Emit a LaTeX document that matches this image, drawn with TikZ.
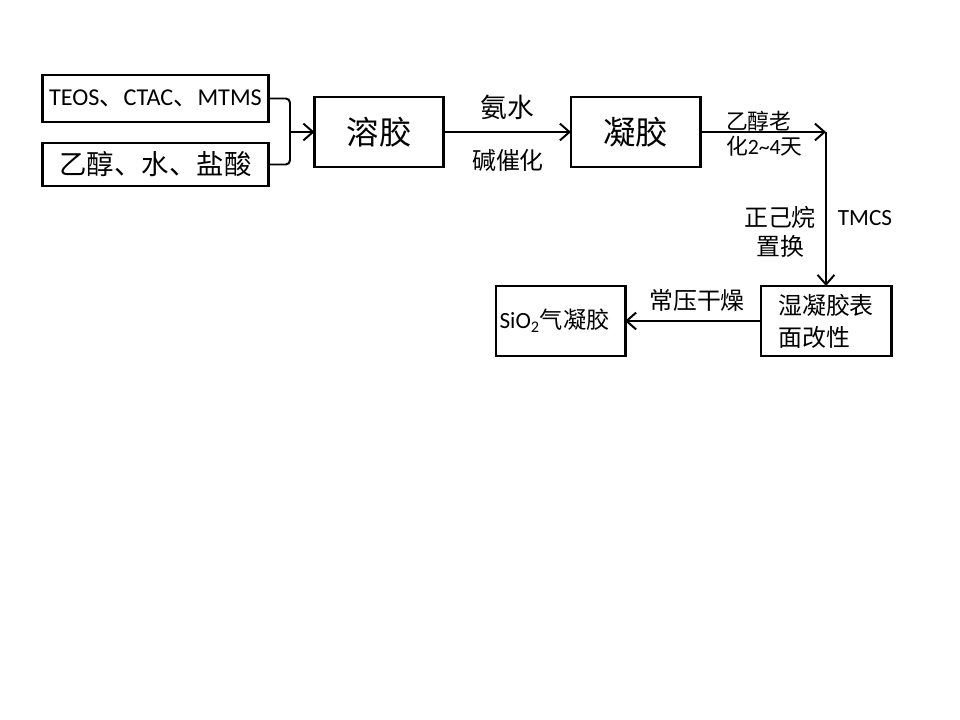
\documentclass[tikz,border=0pt]{standalone}
\usepackage{fontspec}
\setmainfont{Carlito}
\newfontfamily\cjk{Noto Sans CJK SC}
\usetikzlibrary{arrows.meta}
\tikzset{stepbox/.style={draw, line width=2.1pt, inner sep=0, outer sep=0}}
\tikzset{feedbox/.style={stepbox, minimum width=5.65cm}}
\tikzset{gelbox/.style={stepbox, minimum width=3.225cm, minimum height=1.75cm}}
\tikzset{wire/.style={line width=1.4pt}}
\tikzset{flow/.style={wire, -{Straight Barb[length=2.4mm,width=4.2mm,line width=1.4pt]}}}
\tikzset{steplabel/.style={font=\cjk\fontsize{17}{20.6}\selectfont}}

\begin{document}
\begin{tikzpicture}[x=0.025cm, y=-0.025cm, every node/.style={inner sep=0,outer sep=0}]
\useasboundingbox (0,0) rectangle (960,720);
% Feeds
\node[feedbox, minimum height=1.175cm, font=\fontsize{17.2}{20}\selectfont] (teos) at (155.5,98.5) {TEOS{\cjk 、}CTAC{\cjk 、}MTMS};
\node[feedbox, minimum height=1.075cm, font=\cjk\fontsize{19.5}{24}\selectfont] (mix) at (155.5,164.5) {乙醇、水、盐酸};
%% Sol and gel
\node[gelbox, font=\cjk\fontsize{23}{28}\selectfont] (sol) at (379,132) {溶胶};
\node[gelbox, font=\cjk\fontsize{23}{28}\selectfont] (gel) at (635.5,132) {凝胶};
% Wet gel
\node[gelbox, minimum width=3.25cm, align=left, font=\cjk\fontsize{17}{22.8}\selectfont] (wet) at (826,321) {湿凝胶表\\面改性};
% Aerogel
\node[gelbox, font=\fontsize{16.5}{20}\selectfont] (aero) at (560.5,321) {SiO\textsubscript{2}{\cjk 气凝胶}\kern0.3cm};
% Corners
\coordinate (join) at (290,132);
\coordinate (turn) at (826,132);
% Lines
\draw[wire, rounded corners=3pt] (teos.east) -| (join) |- (mix.east);
\draw[flow] (join) -- (sol.west);
\draw[flow] (sol.east) -- (gel.west);
\draw[flow] (gel.east) -- (turn);
\draw[flow] (turn) -- (wet.north);
\draw[flow] (wet.west) -- (aero.east);
% Labels
\node[steplabel, font=\cjk\fontsize{19}{22}\selectfont] (nh3) at (507,107) {氨水};
\node[steplabel] (base) at (508,160) {碱催化};
\node[steplabel, anchor=west, align=left, font=\fontsize{15.5}{17.8}\selectfont] (aging) at (726,134) {{\cjk 乙醇老}\\{\cjk 化}2\textasciitilde4{\cjk 天}};
\node[steplabel, align=center] (hexane) at (780,232) {正己烷\\置换};
\node[font=\fontsize{16.5}{20}\selectfont] (tmcs) at (865,218) {TMCS};
\node[steplabel] (dry) at (697,300) {常压干燥};
\end{tikzpicture}
\end{document}
